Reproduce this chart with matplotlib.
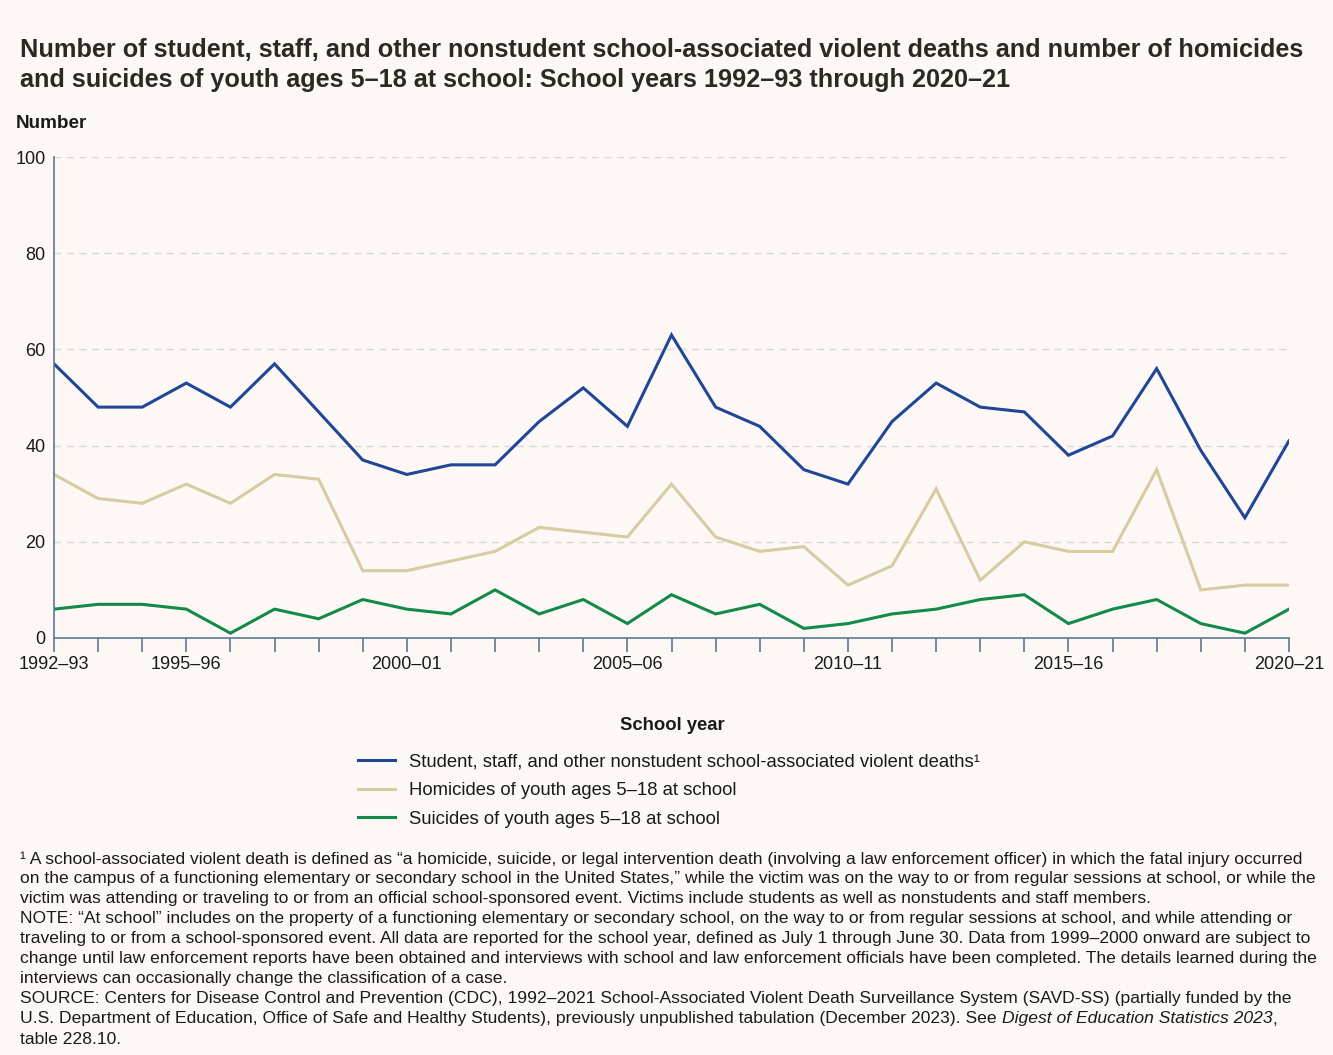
import matplotlib
matplotlib.use('Agg')
from matplotlib import pyplot
import matplotlib.ticker as ticker

pyplot.rcParams['font.family'] = ['Liberation Sans', 'DejaVu Sans']

years = ['1992–93', '1993–94', '1994–95', '1995–96', '1996–97', '1997–98', '1998–99',
         '1999–2000', '2000–01', '2001–02', '2002–03', '2003–04', '2004–05', '2005–06',
         '2006–07', '2007–08', '2008–09', '2009–10', '2010–11', '2011–12', '2012–13',
         '2013–14', '2014–15', '2015–16', '2016–17', '2017–18', '2018–19', '2019–20',
         '2020–21']
total_deaths = [57, 48, 48, 53, 48, 57, 47, 37, 34, 36, 36, 45, 52, 44, 63, 48, 44,
                35, 32, 45, 53, 48, 47, 38, 42, 56, 39, 25, 41]
homicides = [34, 29, 28, 32, 28, 34, 33, 14, 14, 16, 18, 23, 22, 21, 32, 21, 18, 19,
             11, 15, 31, 12, 20, 18, 18, 35, 10, 11, 11]
suicides = [6, 7, 7, 6, 1, 6, 4, 8, 6, 5, 10, 5, 8, 3, 9, 5, 7, 2, 3, 5, 6, 8, 9, 3,
            6, 8, 3, 1, 6]
labelled_years = ['1992–93', '1995–96', '2000–01', '2005–06', '2010–11', '2015–16', '2020–21']

series_names = ['Student, staff, and other nonstudent school-associated violent deaths¹',
                'Homicides of youth ages 5–18 at school',
                'Suicides of youth ages 5–18 at school']
colors = ['#1f4697', '#d6cba1', '#13894a']

title = ('Number of student, staff, and other nonstudent school-associated violent deaths and number of homicides\n'
         'and suicides of youth ages 5–18 at school: School years 1992–93 through 2020–21')

notes = [
    '¹ A school-associated violent death is defined as “a homicide, suicide, or legal intervention death (involving a law enforcement officer) in which the fatal injury occurred',
    'on the campus of a functioning elementary or secondary school in the United States,” while the victim was on the way to or from regular sessions at school, or while the',
    'victim was attending or traveling to or from an official school-sponsored event. Victims include students as well as nonstudents and staff members.',
    'NOTE: “At school” includes on the property of a functioning elementary or secondary school, on the way to or from regular sessions at school, and while attending or',
    'traveling to or from a school-sponsored event. All data are reported for the school year, defined as July 1 through June 30. Data from 1999–2000 onward are subject to',
    'change until law enforcement reports have been obtained and interviews with school and law enforcement officials have been completed. The details learned during the',
    'interviews can occasionally change the classification of a case.',
    'SOURCE: Centers for Disease Control and Prevention (CDC), 1992–2021 School-Associated Violent Death Surveillance System (SAVD-SS) (partially funded by the',
]
source_tail = ['U.S. Department of Education, Office of Safe and Healthy Students), previously unpublished tabulation (December 2023). See ',
               'Digest of Education Statistics 2023', ',']
last_line = 'table 228.10.'

W, H = 1333, 1055
bg = '#fdf8f5'
ink = '#1a1a1a'
axis_col = '#5d7893'

def px(x, y):
    return x / W, 1 - y / H

fig = pyplot.figure(figsize=(W / 100, H / 100), dpi=100, facecolor=bg)
ax = fig.add_axes([54 / W, 1 - 638 / H, (1289 - 54) / W, (638 - 157) / H], facecolor=bg)

x = list(range(len(years)))
for values, name, c in zip([total_deaths, homicides, suicides], series_names, colors):
    ax.plot(x, values, color=c, linewidth=2.2, label=name, solid_joinstyle='miter')

ax.set_xlim(0, len(years) - 1)
ax.set_ylim(0, 100)
ax.yaxis.set_major_locator(ticker.MultipleLocator(20))
ax.set_xticks(x)
ax.set_xticklabels([y if y in labelled_years else '' for y in years])
ax.tick_params(axis='x', length=10, width=1.2, color=axis_col, labelsize=13,
               labelcolor=ink, pad=3)
ax.tick_params(axis='y', length=0, labelsize=13, labelcolor=ink, pad=6)
for yv in [20, 40, 60, 80, 100]:
    ax.axhline(yv, color='#d9d6d3', linewidth=1, linestyle=(0, (5, 4)), zorder=0)
for s in ['top', 'right']:
    ax.spines[s].set_visible(False)
for s in ['left', 'bottom']:
    ax.spines[s].set_color(axis_col)
    ax.spines[s].set_linewidth(1.2)

fig.text(*px(20, 65), title, fontsize=18.2, fontweight='bold', color='#2a2a22',
         va='center', ha='left', linespacing=1.32)
fig.text(*px(16, 123), 'Number', fontsize=13.6, fontweight='bold', color=ink, va='center')
fig.text(*px(672, 725), 'School year', fontsize=13.3, fontweight='bold', color=ink,
         va='center', ha='center')

fig.legend(loc='upper left', bbox_to_anchor=px(341, 737), frameon=False, fontsize=13.3,
           handlelength=2.05, handletextpad=0.75, labelspacing=0.62, labelcolor=ink)

note_size = 12.6
for i, line in enumerate(notes):
    fig.text(*px(20, 859 + 20 * i), line, fontsize=note_size, color=ink, va='center')

# source line with the italic title in the middle
fig.canvas.draw()
renderer = fig.canvas.get_renderer()
xpos = 20
for part, style in zip(source_tail, ['normal', 'italic', 'normal']):
    t = fig.text(*px(xpos, 1019), part, fontsize=note_size, color=ink, va='center',
                 style=style)
    xpos += t.get_window_extent(renderer).width
fig.text(*px(20, 1039), last_line, fontsize=note_size, color=ink, va='center')

fig.savefig('out.png', dpi=100, facecolor=bg)
